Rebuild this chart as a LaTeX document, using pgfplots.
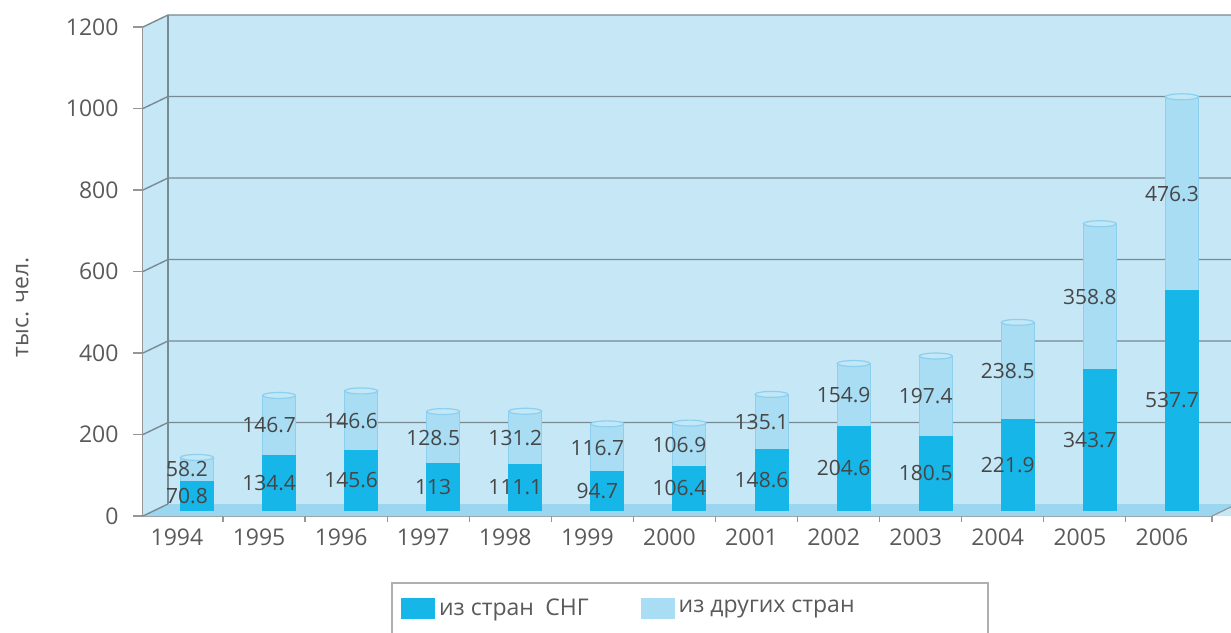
\documentclass[border=0pt]{standalone}
\usepackage{pgfplots}
\pgfplotsset{compat=1.18}
\usepackage{pgfplotstable}
\usepackage{fontspec}
\setmainfont{Open Sans}
\definecolor{bgc}{RGB}{198,231,246}
\definecolor{floorc}{RGB}{155,214,240}
\definecolor{darkc}{RGB}{22,182,232}
\definecolor{lightc}{RGB}{168,221,244}
\definecolor{lightedge}{RGB}{140,207,238}
\definecolor{gridc}{RGB}{120,138,148}
\definecolor{axgray}{RGB}{150,150,150}
\definecolor{txtc}{RGB}{90,90,90}
\definecolor{lblc}{RGB}{70,70,70}
\definecolor{boxc}{RGB}{175,175,175}
\pgfplotstableread{
x a b
0 70.8 58.2
1 134.4 146.7
2 145.6 146.6
3 113 128.5
4 111.1 131.2
5 94.7 116.7
6 106.4 106.9
7 148.6 135.1
8 204.6 154.9
9 180.5 197.4
10 221.9 238.5
11 343.7 358.8
12 537.7 476.3
}\datatable
\begin{document}
\begin{tikzpicture}
\useasboundingbox (0,0) rectangle (615.5pt,316pt);
\begin{axis}[
  at={(71.5pt,58pt)}, anchor=south west,
  scale only axis, width=534.5pt, height=244.5pt,
  xmin=-0.414, xmax=12.61, ymin=0, ymax=1200,
  clip=false,
  axis x line*=bottom, axis y line*=left,
  axis line style={axgray, line width=0.6pt},
  ytick={0,200,...,1200},
  xtick={0,...,12},
  xticklabels={1994,1995,1996,1997,1998,1999,2000,2001,2002,2003,2004,2005,2006},
  tick align=outside, major tick length=5pt,
  xtick style={draw=none},
  ytick style={axgray, line width=0.6pt},
  tick label style={font=\fontsize{11.5}{13}\selectfont, text=txtc},
  /pgf/number format/assume math mode=true,
  /pgf/number format/1000 sep={},
  yticklabel shift=3.7pt,
  xticklabel shift=-2pt,
  ylabel={тыс. чел.},
  ylabel style={at={(axis description cs:-0.113,0.427)}, anchor=center, font=\fontsize{11.5}{13}\selectfont, text=txtc},
  legend columns=2,
  legend style={at={(axis description cs:0.2329,-0.137)}, anchor=north west,
    xshift=4.5pt, yshift=-5.5pt, inner sep=0pt,
    draw=none, fill=none, font=\fontsize{11.5}{13}\selectfont, text=txtc,
    /tikz/every even column/.append style={column sep=24pt}},
]
% back wall and left wall
\fill[bgc] (rel axis cs:0,0) -- (rel axis cs:0,1) -- ([shift={(12.5pt,6pt)}]rel axis cs:0,1)
  -- ([shift={(12.5pt,6pt)}]axis cs:14,1200) -- (axis cs:14,0) -- cycle;
% floor
\fill[floorc] (rel axis cs:0,0) -- (rel axis cs:1,0) -- ([shift={(12.5pt,6pt)}]rel axis cs:1,0)
  -- ([shift={(12.5pt,6pt)}]rel axis cs:0,0) -- cycle;
\draw[axgray, line width=0.6pt] (rel axis cs:1,0) -- ++(12.5pt,6pt);
% grid lines
\pgfplotsinvokeforeach{200,400,...,1200}{
  \draw[gridc, line width=0.7pt] (axis cs:-0.414,#1) -- ++(12.5pt,6pt) -- ([shift={(12.5pt,6pt)}]axis cs:14,#1);
}
\draw[gridc, line width=0.7pt] (axis cs:-0.414,0) -- ++(12.5pt,6pt);
\draw[gridc, line width=0.7pt] ([shift={(12.5pt,6pt)}]axis cs:-0.414,0) -- ([shift={(12.5pt,6pt)}]axis cs:-0.414,1200);
% category boundary ticks
\pgfplotsinvokeforeach{0.56,1.56,2.56,3.56,4.56,5.56,6.56,7.56,8.56,9.56,10.56,11.56,12.61}{
  \draw[axgray, line width=0.6pt] (axis cs:#1,0) -- ++(0pt,-3pt);
}
% bars
\addplot[ybar, bar width=16.5pt, bar shift=10pt, fill=lightc, draw=lightedge, line width=0.5pt, yshift=3pt, forget plot]
  table[x=x, y expr=\thisrow{a}+\thisrow{b}] {\datatable};
\addplot[ybar, bar width=16.5pt, bar shift=10pt, fill=darkc, draw=darkc, line width=0.5pt, yshift=3pt, forget plot]
  table[x=x, y=a] {\datatable};
% cylinder tops
\addplot[only marks, mark=*, mark size=8.25pt, mark options={yscale=0.18, fill=lightc!70!white, draw=lightedge, line width=0.6pt},
  xshift=10pt, yshift=3pt, forget plot]
  table[x=x, y expr=\thisrow{a}+\thisrow{b}] {\datatable};
% labels
\addplot[only marks, mark=*, mark size=0pt, mark options={draw=none, fill=none},
  nodes near coords, point meta=explicit symbolic, xshift=5pt, yshift=3pt,
  every node near coord/.append style={anchor=center, font=\fontsize{10.5}{12}\selectfont, text=lblc},
  forget plot]
  table[x=x, y expr=\thisrow{a}/2, meta=a] {\datatable};
\addplot[only marks, mark=*, mark size=0pt, mark options={draw=none, fill=none},
  nodes near coords, point meta=explicit symbolic, xshift=5pt, yshift=3pt,
  every node near coord/.append style={anchor=center, font=\fontsize{10.5}{12}\selectfont, text=lblc},
  forget plot]
  table[x=x, y expr=\thisrow{a}+\thisrow{b}/2, meta=b] {\datatable};
% legend frame
\draw[boxc, line width=0.6pt, fill=white] (axis description cs:0.2329,-0.137) rectangle (axis description cs:0.7905,-0.30);
\addlegendimage{legend image code/.code={\fill[darkc] (0pt,-5pt) rectangle (16.5pt,5pt);}}
\addlegendentry{из стран\enspace СНГ}
\addlegendimage{legend image code/.code={\fill[lightc] (0pt,-5pt) rectangle (16.5pt,5pt);}}
\addlegendentry{из других стран}
\end{axis}
\end{tikzpicture}
\end{document}
